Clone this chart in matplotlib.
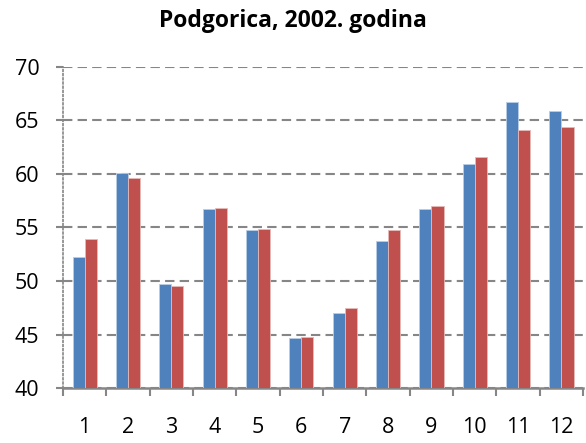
import matplotlib
matplotlib.use("Agg")
import matplotlib.pyplot as plt
import numpy as np

months = ["1", "2", "3", "4", "5", "6", "7", "8", "9", "10", "11", "12"]
series_a = [52.25, 60.05, 49.75, 56.7, 54.8, 44.7, 47.05, 53.7, 56.7, 60.9, 66.75, 65.85]
series_b = [53.9, 59.6, 49.5, 56.8, 54.9, 44.75, 47.5, 54.8, 57.0, 61.55, 64.1, 64.35]
yticks = [40, 45, 50, 55, 60, 65, 70]
title = "Podgorica, 2002. godina"

plt.rcParams['font.family'] = ['Open Sans', 'DejaVu Sans']

fig = plt.figure(figsize=(5.86, 4.43), dpi=100)
ax = fig.add_axes([0.1075, 0.124, 0.8875, 0.725])

x = np.arange(len(months))
w = 0.28
ax.bar(x - w / 2, series_a, w, color="#4F81BD", edgecolor="#B9CDE5", linewidth=0.6, zorder=3)
ax.bar(x + w / 2, series_b, w, color="#C0504D", edgecolor="#E6B9B8", linewidth=0.6, zorder=3)

ax.set_ylim(40, 70)
ax.set_xlim(-0.5, len(months) - 0.5)
ax.set_yticks(yticks)
ax.set_yticklabels([str(v) for v in yticks], fontsize=15.5)
ax.yaxis.grid(True, linestyle=(0, (4.5, 2.5)), color="#868686", linewidth=1.5, zorder=0)
ax.tick_params(axis='y', length=5, color="#868686", width=1.5, pad=12)

ax.set_xticks(np.arange(-0.5, len(months), 1))
ax.set_xticklabels([])
ax.set_xticks(x, minor=True)
ax.set_xticklabels(months, minor=True, fontsize=15.5)
ax.tick_params(axis='x', which='major', length=6, color="#868686", width=1.5)
ax.tick_params(axis='x', which='minor', length=0, pad=21)

for s in ["top", "right"]:
    ax.spines[s].set_visible(False)
ax.spines["bottom"].set_color("#868686")
ax.spines["bottom"].set_linewidth(1.8)
ax.spines["left"].set_color("#868686")
ax.spines["left"].set_linestyle((0, (1, 1.5)))
ax.spines["left"].set_linewidth(1.2)

fig.text(0.5, 0.953, title, ha="center", va="center", fontsize=16.5, fontweight="bold")

fig.savefig("out.png", dpi=100)
